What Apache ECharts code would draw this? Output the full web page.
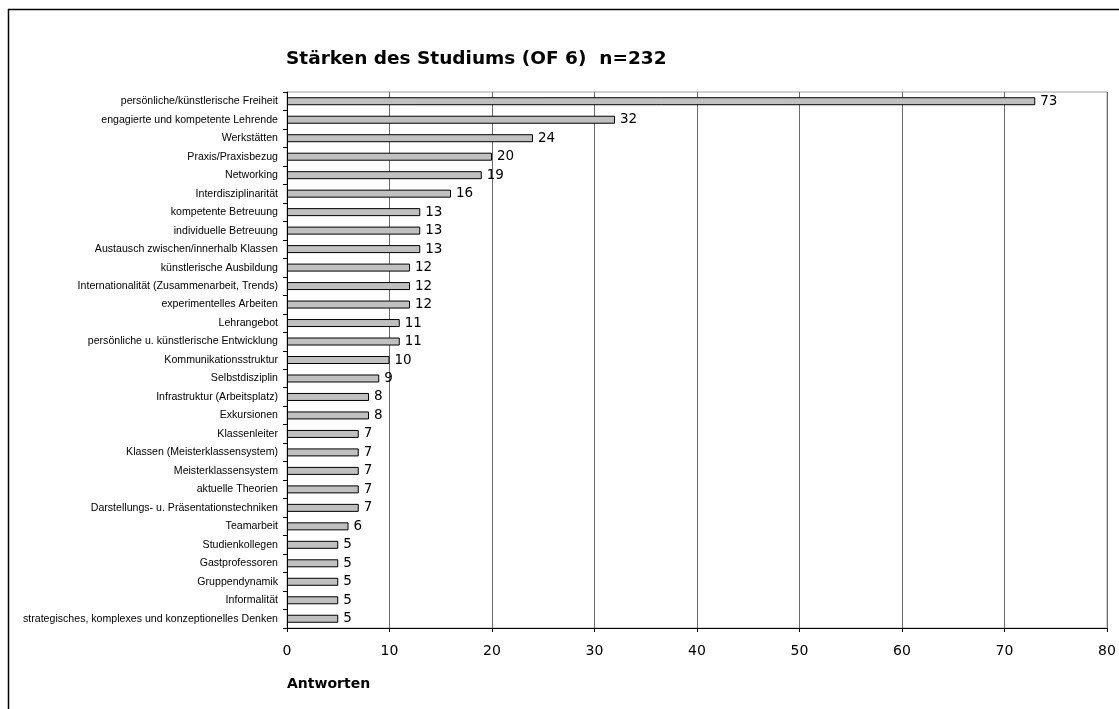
<!DOCTYPE html>
<html>
<head>
<meta charset="utf-8">
<script src="https://cdn.jsdelivr.net/npm/echarts@6/dist/echarts.min.js"></script>
<style>
  html, body { margin: 0; padding: 0; background: #fff; }
  #chart { width: 1119px; height: 709px; }
</style>
</head>
<body>
<div id="chart"></div>
<script>
// Strengths of the programme, answers per item (top to bottom)
const categories = [
  'persönliche/künstlerische Freiheit',
  'engagierte und kompetente Lehrende',
  'Werkstätten',
  'Praxis/Praxisbezug',
  'Networking',
  'Interdisziplinarität',
  'kompetente Betreuung',
  'individuelle Betreuung',
  'Austausch zwischen/innerhalb Klassen',
  'künstlerische Ausbildung',
  'Internationalität (Zusammenarbeit, Trends)',
  'experimentelles Arbeiten',
  'Lehrangebot',
  'persönliche u. künstlerische Entwicklung',
  'Kommunikationsstruktur',
  'Selbstdisziplin',
  'Infrastruktur (Arbeitsplatz)',
  'Exkursionen',
  'Klassenleiter',
  'Klassen (Meisterklassensystem)',
  'Meisterklassensystem',
  'aktuelle Theorien',
  'Darstellungs- u. Präsentationstechniken',
  'Teamarbeit',
  'Studienkollegen',
  'Gastprofessoren',
  'Gruppendynamik',
  'Informalität',
  'strategisches, komplexes und konzeptionelles Denken'
];
const answers = [73, 32, 24, 20, 19, 16, 13, 13, 13, 12, 12, 12, 11, 11, 10, 9, 8, 8, 7, 7, 7, 7, 7, 6, 5, 5, 5, 5, 5];
const xTicks = [0, 10, 20, 30, 40, 50, 60, 70, 80];
const titleText = 'Stärken des Studiums (OF 6)  n=232';
const xAxisTitle = 'Antworten';

const chart = echarts.init(document.getElementById('chart'), null, { renderer: 'canvas' });

chart.setOption({
  animation: false,
  backgroundColor: '#ffffff',
  grid: { left: 287, right: 12, top: 92, bottom: 81, containLabel: false,
          show: true, borderColor: '#a0a0a0', borderWidth: 1 },
  graphic: [
    // outer frame of the chart area
    { type: 'rect', shape: { x: 8.5, y: 9.5, width: 1200, height: 800 },
      style: { fill: 'none', stroke: '#000', lineWidth: 1.5 }, silent: true, z: -1 },
    { type: 'text', left: 286, top: 50,
      style: { text: titleText, font: 'bold 18.5px "DejaVu Sans"', fill: '#000' } },
    { type: 'text', left: 287, top: 677,
      style: { text: xAxisTitle, font: 'bold 14px "DejaVu Sans"', fill: '#000' } }
  ],
  xAxis: {
    type: 'value', min: 0, max: xTicks[xTicks.length - 1], interval: 10,
    axisLine: { show: true, lineStyle: { color: '#000', width: 1 } },
    axisTick: { show: true, length: 4, lineStyle: { color: '#000' } },
    axisLabel: { color: '#000', fontFamily: 'DejaVu Sans', fontSize: 14, margin: 16,
                 formatter: v => xTicks.includes(v) ? String(v) : '' },
    splitLine: { show: true, lineStyle: { color: '#6a6a6a', width: 1 } }
  },
  yAxis: {
    type: 'category', data: categories, inverse: true,
    axisLine: { show: true, lineStyle: { color: '#000', width: 1 } },
    axisTick: { show: true, length: 4, alignWithLabel: false, lineStyle: { color: '#000' } },
    axisLabel: { color: '#000', fontFamily: 'Liberation Sans', fontSize: 10.6, margin: 9 },
    splitLine: { show: false }
  },
  series: [{
    type: 'bar', data: answers, barWidth: 8,
    itemStyle: { color: '#c0c0c0', borderColor: '#000', borderWidth: 1 },
    label: { show: true, position: 'right', distance: 5, color: '#000',
             fontFamily: 'DejaVu Sans', fontSize: 13.5 }
  }]
});
</script>
</body>
</html>
